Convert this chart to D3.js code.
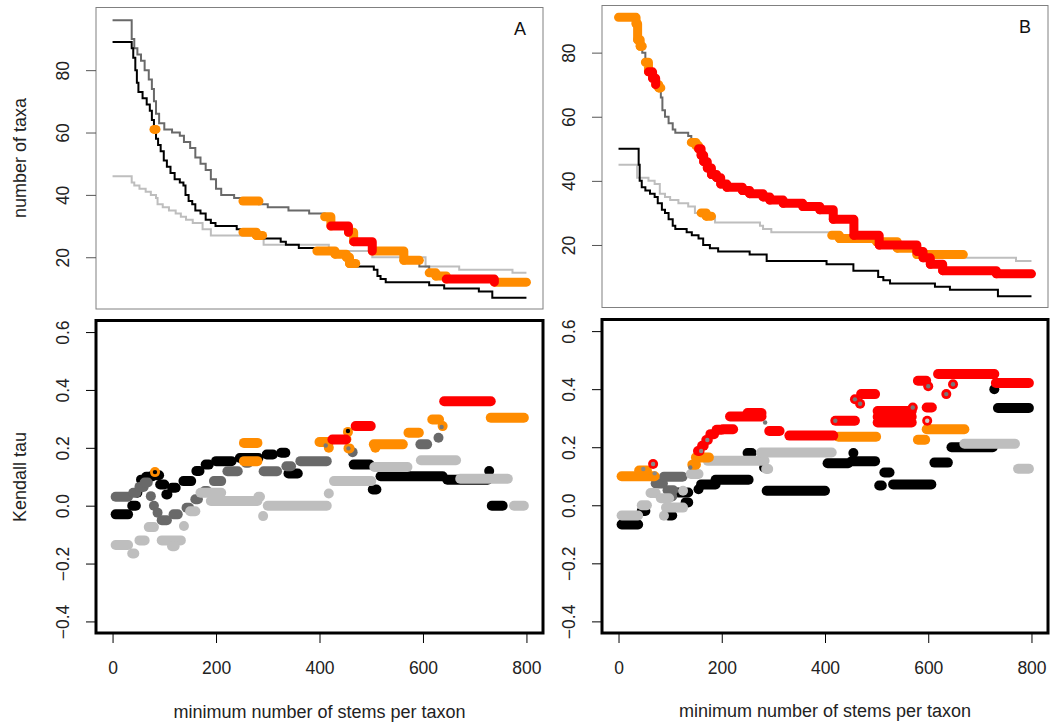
<!DOCTYPE html>
<html>
<head>
<meta charset="utf-8">
<script src="https://cdn.jsdelivr.net/npm/d3@7"></script>
<style>
  body { margin: 0; background: #fff; }
  svg { display: block; font-family: "Liberation Sans", Arial, sans-serif; }
</style>
</head>
<body>
<svg id="chart" width="1051" height="724"></svg>
<script>
// number of taxa kept at each minimum stem count: [stems, taxa, sig]
// sig: 0 = not significant, 1 = orange, 2 = red
const taxaA_black = [
  [0,89,0],[37,87,0],[40,84,0],[44,80,0],[47,76,0],[50,73,0],[58,71,0],[66,69,0],[72,67,0],[76,64,0],
  [80,61,1],[84,58,0],[88,56,0],[93,54,0],[99,51,0],[105,49,0],[112,47,0],[120,45,0],[130,44,0],[137,43,0],
  [141,40,0],[147,38,0],[154,37,0],[160,35,0],[170,34,0],[180,32,0],[190,31,0],[199,30,0],[240,29,0],
  [252,28,1],[278,27,1],[290,26,0],[325,25,0],[335,24,0],[360,23,0],[395,22,1],[430,21,1],[452,20,1],
  [458,18,1],[470,17,0],[505,16,0],[512,14,0],[518,13,0],[528,12,0],[612,11,0],[641,10,0],[708,9,0],
  [734,7,0],[800,7,0]
];
const taxaA_dark = [
  [0,96,0],[37,90,0],[42,87,0],[48,85,0],[55,83,0],[62,80,0],[70,77,0],[76,74,0],[80,70,0],[84,66,0],
  [90,63,0],[100,61,0],[115,60,0],[130,59,0],[138,57,0],[150,55,0],[160,52,0],[170,50,0],[180,48,0],
  [190,45,0],[200,42,0],[210,40,0],[235,39,0],[252,38,1],[283,37,0],[300,36,0],[340,35,0],[380,34,0],
  [410,33,1],[422,30,2],[456,28,1],[466,25,2],[502,22,1],[563,19,1],[593,17,0],[612,15,1],[625,14,1],
  [645,13,2],[738,12,1],[800,12,1]
];
const taxaA_light = [
  [0,46,0],[37,44,0],[42,43,0],[52,42,0],[64,41,0],[74,40,0],[84,39,0],[87,37,0],[97,36,0],[109,35,0],
  [122,34,0],[132,33,0],[142,32,0],[155,31,0],[174,29,0],[190,27,0],[292,24,0],[418,22,0],[502,20,0],
  [605,17,0],[670,16,0],[773,15,0],[800,15,0]
];
const taxaB_black = [
  [0,50,0],[39,45,0],[41,40,0],[45,38,0],[52,37,0],[61,36,0],[70,35,0],[76,33,0],[84,31,0],[90,30,0],
  [97,28,0],[105,26,0],[110,25,0],[132,24,0],[142,23,0],[155,22,0],[164,20,0],[177,19,0],[193,18,0],
  [254,17,0],[287,15,0],[403,14,0],[455,12,0],[503,10,0],[513,9,0],[526,8,0],[613,7,0],[642,6,0],
  [735,4,0],[800,4,0]
];
const taxaB_dark = [
  [0,91,1],[34,89,1],[37,84,1],[42,82,1],[46,80,0],[52,77,1],[58,74,2],[66,72,2],[72,70,1],[78,69,1],
  [82,66,0],[85,62,0],[90,60,0],[97,58,0],[105,56,0],[110,55,0],[135,54,0],[141,52,1],[150,51,1],
  [155,50,2],[160,48,2],[165,46,2],[172,44,2],[180,42,2],[190,41,2],[198,39,2],[210,38,2],[240,37,2],
  [254,36,2],[280,35,2],[293,34,2],[319,33,2],[357,32,2],[390,31,2],[416,28,2],[456,23,2],[505,20,2],
  [578,18,2],[590,16,2],[604,14,2],[628,12,2],[732,11,2],[800,11,2]
];
const taxaB_light = [
  [0,45,0],[36,41,0],[58,40,0],[70,39,0],[80,36,0],[90,35,0],[100,34,0],[116,33,0],[135,32,0],[148,30,0],
  [160,30,1],[170,29,1],[180,29,0],[187,27,0],[274,26,0],[280,25,0],[296,24,0],[413,23,1],[428,22,1],
  [500,21,1],[540,19,1],[578,17,1],[668,16,0],[770,15,0],[800,15,0]
];

// Kendall tau runs: [from stems, to stems, tau]
const tauA_black = [
  [6,30,-0.03],[38,45,0.0],[48,48,0.045],[55,62,0.09],[65,75,0.1],[78,90,0.105],[92,100,0.073],
  [104,106,0.039],[115,122,0.062],[137,152,0.085],[162,168,0.12],[180,186,0.142],[200,230,0.154],
  [246,282,0.165],[298,310,0.177],[326,334,0.183],[340,358,0.111],[466,497,0.142],[503,510,0.056],
  [518,638,0.102],[647,725,0.09],[728,728,0.12],[733,754,0.0]
];
const tauA_dark = [
  [6,30,0.031],[40,46,0.045],[52,60,0.065],[62,68,0.08],[74,74,0.033],[80,80,0.0],[87,87,-0.024],
  [95,105,-0.05],[118,126,-0.03],[143,148,-0.007],[160,165,0.022],[178,183,0.051],[196,210,0.085],
  [222,242,0.119],[258,262,0.148],[292,318,0.119],[336,345,0.136],[363,414,0.154],[464,464,0.185],
  [595,608,0.212],[630,630,0.235]
];
const tauA_light = [
  [6,30,-0.136],[38,42,-0.165],[52,62,-0.12],[70,80,-0.074],[95,132,-0.12],[115,120,-0.14],
  [138,138,-0.07],[150,160,-0.019],[170,210,0.045],[190,280,0.016],[282,285,0.031],[291,291,-0.036],
  [300,414,0.0],[418,418,0.042],[428,500,0.085],[506,570,0.134],[596,664,0.157],[672,764,0.093],
  [776,795,0.0]
];
// significant runs: [from, to, tau, sig]
const tauA_sig = [
  [82,82,0.116,1],[254,280,0.217,1],[254,280,0.154,1],[400,418,0.22,1],[418,418,0.2,1],[452,452,0.23,1],
  [455,455,0.255,1],[456,458,0.198,1],[505,561,0.212,1],[508,508,0.2,1],[572,592,0.252,1],
  [618,631,0.298,1],[638,638,0.275,1],[731,795,0.304,1],
  [425,451,0.229,2],[470,499,0.275,2],[641,731,0.361,2]
];
// small overplotted centres: [stems, tau, colour]
const tauA_marks = [
  [82,0.116,"#000"],[455,0.258,"#000"],[412,0.208,"#777"],[456,0.198,"#777"],[636,0.272,"#777"]
];

const tauB_black = [
  [6,38,-0.066],[45,52,-0.02],[96,104,-0.035],[115,135,0.044],[130,135,0.01],[155,155,0.055],
  [160,188,0.072],[188,252,0.088],[250,258,0.18],[282,282,0.13],[287,400,0.05],[405,445,0.145],
  [452,497,0.152],[455,455,0.18],[505,510,0.068],[515,525,0.113],[532,606,0.072],[612,638,0.147],
  [645,725,0.2],[728,728,0.4],[735,795,0.335]
];
const tauB_dark = [
  [72,86,0.075],[88,124,0.098],[95,106,0.052],[100,104,0.03]
];
const tauB_light = [
  [6,38,-0.035],[45,55,0.0],[62,72,0.042],[82,98,0.024],[92,125,-0.008],[88,88,-0.036],[125,125,0.05],
  [140,155,0.108],[173,283,0.153],[286,290,0.125],[276,413,0.182],[670,768,0.212],[774,795,0.126]
];
const tauB_sig = [
  [6,70,0.1,1],[40,55,0.12,1],[143,150,0.14,1],[150,175,0.165,1],[426,499,0.236,1],[580,594,0.226,1],
  [597,670,0.262,1],
  [67,67,0.142,2],[154,157,0.187,2],[162,165,0.205,2],[170,173,0.225,2],[178,185,0.245,2],
  [190,200,0.26,2],[203,222,0.262,2],[216,277,0.306,2],[250,277,0.318,2],[292,312,0.256,2],
  [331,416,0.24,2],[420,458,0.291,2],[458,458,0.365,2],[468,468,0.35,2],[470,497,0.383,2],
  [502,568,0.325,2],[502,568,0.305,2],[502,568,0.285,2],[570,570,0.337,2],[580,596,0.429,2],
  [600,600,0.41,2],[597,607,0.337,2],[598,598,0.291,2],[619,728,0.452,2],[635,635,0.383,2],
  [648,648,0.417,2],[731,795,0.421,2]
];
const tauB_marks = [
  [67,0.142,"#888"],[48,0.125,"#888"],[70,0.11,"#888"],[139,0.13,"#777"],[160,0.187,"#888"],
  [172,0.225,"#888"],[284,0.285,"#777"],[420,0.291,"#777"],[458,0.365,"#777"],[468,0.35,"#777"],
  [570,0.337,"#777"],[598,0.291,"#ccc"],[600,0.41,"#777"],[635,0.383,"#777"],[648,0.417,"#777"]
];

const taxaTicks = [20, 40, 60, 80];
const tauTicks = [-0.4, -0.2, 0, 0.2, 0.4, 0.6];
const stemTicks = [0, 200, 400, 600, 800];

const BLACK = "#000", DARK = "#696969", LIGHT = "#bebebe";
const SIG = [null, "#ff8c00", "#ff0000"];

const svg = d3.select("#chart");

const xA = d3.scaleLinear().domain([-32, 832]).range([96, 543]);
const xB = d3.scaleLinear().domain([-32, 832]).range([602, 1048]);
const yTaxaA = d3.scaleLinear().domain([3.4, 100.1]).range([309, 7.5]);
const yTaxaB = d3.scaleLinear().domain([0.5, 94.7]).range([307.5, 5.5]);
const yTauA = d3.scaleLinear().domain([-0.44, 0.64]).range([633, 320.5]);
const yTauB = d3.scaleLinear().domain([-0.44, 0.64]).range([633, 319.5]);

function leftAxis(x, y, ticks, fmt, labelX, tickColor) {
  const x0 = x.range()[0];
  const ax = svg.append("g")
    .attr("transform", `translate(${x0},0)`)
    .call(d3.axisLeft(y).tickValues(ticks).tickSize(10).tickFormat(fmt));
  ax.select(".domain").remove();
  ax.selectAll("line").attr("stroke", tickColor);
  ax.selectAll("text")
    .attr("transform", "rotate(-90)")
    .attr("x", 0)
    .attr("y", -(x0 - labelX))
    .attr("dy", "0.35em")
    .attr("text-anchor", "middle")
    .attr("fill", "#222")
    .style("font-size", "17.5px")
    .style("font-family", "Liberation Sans, Arial, sans-serif");
}

function bottomAxis(x, yPos) {
  const ax = svg.append("g")
    .attr("transform", `translate(0,${yPos})`)
    .call(d3.axisBottom(x).tickValues(stemTicks).tickSize(10));
  ax.select(".domain").remove();
  ax.selectAll("line").attr("stroke", "#000");
  ax.selectAll("text")
    .attr("y", 41).attr("dy", 0)
    .attr("fill", "#222")
    .style("font-size", "17.5px")
    .style("font-family", "Liberation Sans, Arial, sans-serif");
}

function frame(x, y, color, width) {
  const [x0, x1] = x.range();
  const [y1, y0] = y.range();
  svg.append("rect")
    .attr("x", x0).attr("y", y0)
    .attr("width", x1 - x0).attr("height", y1 - y0)
    .attr("fill", "none").attr("stroke", color).attr("stroke-width", width);
}

// taxa curves: thin step lines, significant stretches overdrawn as fat strokes
function taxaPanel(x, y, series, label) {
  const g = svg.append("g");
  const step = d3.line().x(d => x(d[0])).y(d => y(d[1])).curve(d3.curveStepAfter);
  const seg = d3.line().x(d => x(d[0])).y(d => y(d[1]));

  series.forEach(s => {
    g.append("path").attr("d", step(s.data))
      .attr("fill", "none").attr("stroke", s.color).attr("stroke-width", 2);
  });

  [1, 2].forEach(level => {
    series.forEach(s => {
      s.data.forEach((d, i) => {
        if (d[2] !== level || i === s.data.length - 1) return;
        const next = s.data[i + 1];
        const pts = [[d[0], d[1]], [next[0], d[1]]];
        if (next[2] > 0) pts.push([next[0], next[1]]);
        g.append("path").attr("d", seg(pts))
          .attr("fill", "none").attr("stroke", SIG[level])
          .attr("stroke-width", 9)
          .attr("stroke-linecap", "round").attr("stroke-linejoin", "round");
      });
    });
  });

  frame(x, y, "#808080", 1);
  leftAxis(x, y, taxaTicks, d3.format("d"), x.range()[0] - 33, "#555");

  svg.append("text")
    .attr("x", x.range()[1] - 23).attr("y", y.range()[1] + 27)
    .attr("text-anchor", "middle")
    .style("font-size", "18px").attr("fill", "#111")
    .text(label);
}

// Kendall tau: each run of equal values drawn as a strip of fat dots
function tauPanel(x, y, series, sig, marks) {
  const g = svg.append("g");
  const r = 5;
  const strip = (sel, color) => sel
    .attr("x", d => x(d[0]) - r)
    .attr("y", d => y(d[2]) - r)
    .attr("width", d => x(d[1]) - x(d[0]) + 2 * r)
    .attr("height", 2 * r)
    .attr("rx", r)
    .attr("fill", color);

  series.forEach(s => {
    g.append("g").selectAll("rect").data(s.data).join("rect").call(strip, s.color);
  });
  [1, 2].forEach(level => {
    g.append("g").selectAll("rect").data(sig.filter(d => d[3] === level))
      .join("rect").call(strip, SIG[level]);
  });
  g.append("g").selectAll("circle").data(marks).join("circle")
    .attr("cx", d => x(d[0])).attr("cy", d => y(d[1]))
    .attr("r", 2.2).attr("fill", d => d[2]);

  frame(x, y, "#000", 3);
  leftAxis(x, y, tauTicks, d3.format(".1f"), x.range()[0] - 33, "#000");
  bottomAxis(x, y.range()[0]);
}

taxaPanel(xA, yTaxaA, [
  { data: taxaA_light, color: LIGHT },
  { data: taxaA_dark, color: DARK },
  { data: taxaA_black, color: BLACK }
], "A");
taxaPanel(xB, yTaxaB, [
  { data: taxaB_light, color: LIGHT },
  { data: taxaB_dark, color: DARK },
  { data: taxaB_black, color: BLACK }
], "B");

tauPanel(xA, yTauA, [
  { data: tauA_black, color: BLACK },
  { data: tauA_dark, color: DARK },
  { data: tauA_light, color: LIGHT }
], tauA_sig, tauA_marks);
tauPanel(xB, yTauB, [
  { data: tauB_black, color: BLACK },
  { data: tauB_dark, color: DARK },
  { data: tauB_light, color: LIGHT }
], tauB_sig, tauB_marks);

// axis titles
const title = (x, y, rot, txt) => svg.append("text")
  .attr("transform", `translate(${x},${y})` + (rot ? " rotate(-90)" : ""))
  .attr("dy", rot ? "0.35em" : 0)
  .attr("text-anchor", "middle")
  .style("font-size", "18px").attr("fill", "#222")
  .text(txt);

title(20, 158, true, "number of taxa");
title(20, 477, true, "Kendall tau");
title((xA(0) + xA(800)) / 2, 718, false, "minimum number of stems per taxon");
title((xB(0) + xB(800)) / 2, 717, false, "minimum number of stems per taxon");
</script>
</body>
</html>
